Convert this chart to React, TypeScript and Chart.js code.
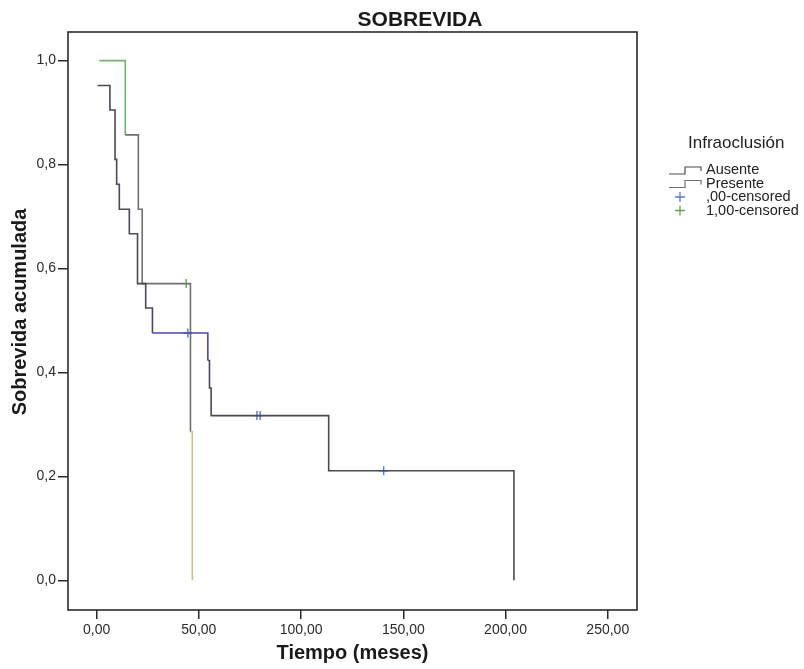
import React, { useEffect, useRef } from 'react';
import { Chart, registerables } from 'chart.js';

Chart.register(...registerables);

// ---- Data ----
const AUSENTE_T = [0.5, 6.5, 9.0, 9.8, 11.1, 16.0, 20.0, 24.0, 27.3, 54.4, 55.2, 56.0, 113.5, 204.1];
const AUSENTE_S = [0.952, 0.905, 0.81, 0.762, 0.714, 0.667, 0.571, 0.524, 0.476, 0.423, 0.37, 0.317, 0.211, 0.0];

const PRESENTE_T = [1.3, 14.0, 20.4, 22.3, 45.9, 46.8];
const PRESENTE_S = [1.0, 0.857, 0.714, 0.571, 0.286, 0.0];

const AUSENTE_CENS_T = [44.6, 78.4, 80.0, 140.4];
const AUSENTE_CENS_S = [0.476, 0.317, 0.317, 0.211];

const PRESENTE_CENS_T = [43.8];
const PRESENTE_CENS_S = [0.571];

const X_TICKS = [0, 50, 100, 150, 200, 250];
const X_TICK_LABELS = ['0,00', '50,00', '100,00', '150,00', '200,00', '250,00'];
const Y_TICKS = [0, 0.2, 0.4, 0.6, 0.8, 1.0];
const Y_TICK_LABELS = ['0,0', '0,2', '0,4', '0,6', '0,8', '1,0'];

const TITLE = 'SOBREVIDA';
const X_TITLE = 'Tiempo (meses)';
const Y_TITLE = 'Sobrevida acumulada';
const LEGEND_TITLE = 'Infraoclusión';
const LEGEND_LABELS = ['Ausente', 'Presente', ',00-censored', '1,00-censored'];

const FONT = "'Liberation Sans', Arial, sans-serif";
const AUSENTE_COLOR = '#4a4a52';
const PRESENTE_COLOR = '#707070';
const BLUE = '#4848b0';
const GREEN = '#74b46c';
const YELLOWISH = '#c4c48a';
const CENS_BLUE = '#5a78c8';
const CENS_GREEN = '#5aa84c';

const pts = (xs: number[], ys: number[]) => xs.map((x, i) => ({ x, y: ys[i] }));

const decorPlugin = {
  id: 'decor',
  afterDraw(chart: any) {
    const { ctx, chartArea: a } = chart;
    ctx.save();
    // plot box
    ctx.strokeStyle = '#2a2a2a';
    ctx.lineWidth = 1.6;
    ctx.strokeRect(a.left, a.top, a.right - a.left, a.bottom - a.top);

    // main title
    ctx.fillStyle = '#1a1a1a';
    ctx.font = `bold 21px ${FONT}`;
    ctx.textAlign = 'center';
    ctx.textBaseline = 'middle';
    ctx.fillText(TITLE, 420, 20);

    // y title
    ctx.save();
    ctx.translate(20, 312);
    ctx.rotate(-Math.PI / 2);
    ctx.font = `bold 20px ${FONT}`;
    ctx.fillText(Y_TITLE, 0, 0);
    ctx.restore();

    // legend
    ctx.textAlign = 'left';
    ctx.font = `17px ${FONT}`;
    ctx.fillStyle = '#222';
    ctx.fillText(LEGEND_TITLE, 688, 143);
    ctx.font = `14.5px ${FONT}`;
    const rows = [170, 183.5, 197, 210.5];
    const stepIcon = (y: number, color: string) => {
      ctx.strokeStyle = color;
      ctx.lineWidth = 1.2;
      ctx.beginPath();
      ctx.moveTo(669, y + 4);
      ctx.lineTo(685, y + 4);
      ctx.lineTo(685, y - 3);
      ctx.lineTo(701, y - 3);
      ctx.lineTo(701, y + 1);
      ctx.stroke();
    };
    const plus = (y: number, color: string) => {
      ctx.strokeStyle = color;
      ctx.lineWidth = 1.3;
      ctx.beginPath();
      ctx.moveTo(680, y - 5);
      ctx.lineTo(680, y + 5);
      ctx.moveTo(675, y);
      ctx.lineTo(685, y);
      ctx.stroke();
    };
    stepIcon(rows[0], AUSENTE_COLOR);
    stepIcon(rows[1], PRESENTE_COLOR);
    plus(rows[2], CENS_BLUE);
    plus(rows[3], CENS_GREEN);
    ctx.fillStyle = '#222';
    LEGEND_LABELS.forEach((t, i) => ctx.fillText(t, 706, rows[i]));
    ctx.restore();
  },
};

export default function App() {
  const ref = useRef<HTMLCanvasElement | null>(null);
  useEffect(() => {
    if (!ref.current) return;
    const chart = new Chart(ref.current, {
      type: 'line',
      data: {
        datasets: [
          {
            label: 'Ausente',
            data: pts(AUSENTE_T, AUSENTE_S),
            borderColor: AUSENTE_COLOR,
            borderWidth: 1.6,
            pointRadius: 0,
            stepped: 'before',
            fill: false,
            segment: {
              borderColor: (c: any) => (c.p0DataIndex === 8 ? BLUE : undefined),
            },
          } as any,
          {
            label: 'Presente',
            data: pts(PRESENTE_T, PRESENTE_S),
            borderColor: PRESENTE_COLOR,
            borderWidth: 1.6,
            pointRadius: 0,
            stepped: 'before',
            fill: false,
            segment: {
              borderColor: (c: any) =>
                c.p0DataIndex === 0 ? GREEN : c.p0DataIndex === 4 ? YELLOWISH : undefined,
            },
          } as any,
          {
            label: ',00-censored',
            data: pts(AUSENTE_CENS_T, AUSENTE_CENS_S),
            showLine: false,
            pointStyle: 'cross',
            pointRadius: 4.5,
            pointBorderWidth: 1.4,
            pointBorderColor: CENS_BLUE,
            borderColor: CENS_BLUE,
          } as any,
          {
            label: '1,00-censored',
            data: pts(PRESENTE_CENS_T, PRESENTE_CENS_S),
            showLine: false,
            pointStyle: 'cross',
            pointRadius: 4.5,
            pointBorderWidth: 1.4,
            pointBorderColor: CENS_GREEN,
            borderColor: CENS_GREEN,
          } as any,
        ],
      },
      options: {
        responsive: false,
        animation: false,
        events: [],
        layout: { padding: { left: 0, top: 32, right: 167, bottom: 0 } },
        plugins: {
          legend: { display: false },
          title: { display: false },
          tooltip: { enabled: false },
        },
        scales: {
          x: {
            type: 'linear',
            min: -14,
            max: 264.3,
            afterBuildTicks: (s: any) => {
              s.ticks = X_TICKS.map((v) => ({ value: v }));
            },
            afterFit: (s: any) => {
              s.height = 59;
            },
            border: { display: false },
            grid: {
              drawOnChartArea: false,
              drawTicks: true,
              tickLength: 9,
              color: '#2a2a2a',
              lineWidth: 1.5,
            },
            ticks: {
              autoSkip: false,
              maxRotation: 0,
              padding: 3,
              color: '#2a2a2a',
              font: { family: FONT, size: 14 },
              callback: (_v: any, i: number) => X_TICK_LABELS[i],
            },
            title: {
              display: true,
              text: X_TITLE,
              color: '#1a1a1a',
              font: { family: FONT, size: 20, weight: 'bold' },
              padding: { top: 0, bottom: 4 },
            },
          },
          y: {
            type: 'linear',
            min: -0.057,
            max: 1.055,
            afterBuildTicks: (s: any) => {
              s.ticks = Y_TICKS.map((v) => ({ value: v }));
            },
            afterFit: (s: any) => {
              s.width = 68;
            },
            border: { display: false },
            grid: {
              drawOnChartArea: false,
              drawTicks: true,
              tickLength: 10,
              color: '#2a2a2a',
              lineWidth: 1.5,
            },
            ticks: {
              autoSkip: false,
              padding: 2,
              color: '#2a2a2a',
              font: { family: FONT, size: 14 },
              callback: (_v: any, i: number) => Y_TICK_LABELS[i],
            },
          },
        },
      } as any,
      plugins: [decorPlugin],
    });
    return () => chart.destroy();
  }, []);

  return (
    <div style={{ position: 'absolute', left: 0, top: 0, width: 804, height: 669, background: '#fff' }}>
      <canvas ref={ref} width={804} height={669} style={{ display: 'block' }} />
    </div>
  );
}
